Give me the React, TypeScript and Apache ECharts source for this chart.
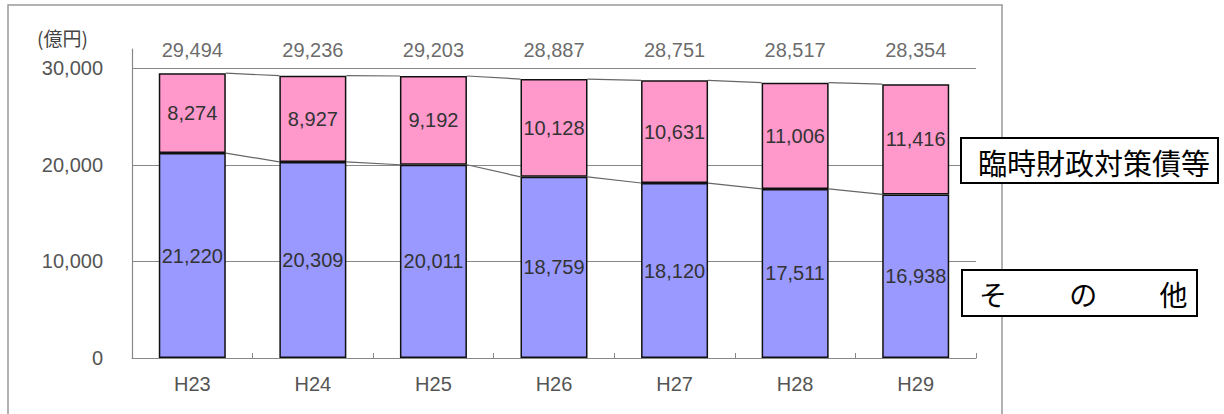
import React, { useEffect, useRef } from "react";
import * as echarts from "echarts";

const categories = ["H23", "H24", "H25", "H26", "H27", "H28", "H29"];
const otherValues = [21220, 20309, 20011, 18759, 18120, 17511, 16938];
const rinjiValues = [8274, 8927, 9192, 10128, 10631, 11006, 11416];
const totalValues = [29494, 29236, 29203, 28887, 28751, 28517, 28354];
const unitLabel = "(億円)";
const legendRinji = "臨時財政対策債等";
const legendOther = "そ　　 の　　 他";

const BAR_WIDTH = 67;
const TOTAL_ROW_LEVEL = 31900;
const FONT = "'Liberation Sans', Arial, sans-serif";
const CJK = "'Noto Sans CJK JP', sans-serif";

const fmt = (v: number) => v.toLocaleString("en-US");

export default function App() {
  const ref = useRef<HTMLDivElement>(null);
  useEffect(() => {
    if (!ref.current) return;
    const chart = echarts.init(ref.current, undefined, { renderer: "svg" });
    const seriesLine = (vals: number[]) => ({
      type: "custom",
      silent: true,
      z: 1,
      encode: { x: 0, y: 1 },
      data: vals.slice(0, -1).map((v, i) => [i, v, vals[i + 1]]),
      renderItem: (_p: any, api: any) => {
        const i = api.value(0);
        const a = api.coord([i, api.value(1)]);
        const b = api.coord([i + 1, api.value(2)]);
        const h = BAR_WIDTH / 2;
        return {
          type: "line",
          shape: { x1: a[0] + h, y1: a[1], x2: b[0] - h, y2: b[1] },
          style: { stroke: "#666", lineWidth: 1.2 },
        };
      },
    });
    chart.setOption({
      animation: false,
      backgroundColor: "#fff",
      grid: { left: 132, right: 248, top: 49, bottom: 56 },
      xAxis: {
        type: "category",
        data: categories,
        axisLine: { lineStyle: { color: "#888", width: 1.2 } },
        axisTick: { show: true, inside: true, length: 5, lineStyle: { color: "#888" } },
        axisLabel: { color: "#555", fontSize: 20, fontFamily: FONT, margin: 16 },
      },
      yAxis: {
        type: "value",
        min: 0,
        max: 32000,
        interval: 10000,
        axisLine: { show: true, lineStyle: { color: "#888", width: 1.2 } },
        axisTick: { show: false },
        axisLabel: {
          color: "#555",
          fontSize: 20,
          fontFamily: FONT,
          margin: 29,
          showMaxLabel: false,
          formatter: (v: number) => fmt(v),
        },
        splitLine: { show: true, showMaxLine: false, lineStyle: { color: "#888", width: 1.2 } },
      },
      series: [
        {
          type: "bar",
          stack: "total",
          data: otherValues,
          barWidth: BAR_WIDTH,
          z: 2,
          itemStyle: { color: "#9999FF", borderColor: "#111", borderWidth: 1.5 },
          label: {
            show: true,
            position: "inside",
            color: "#333",
            fontSize: 20,
            fontFamily: FONT,
            formatter: (p: any) => fmt(p.value),
          },
        },
        {
          type: "bar",
          stack: "total",
          data: rinjiValues,
          barWidth: BAR_WIDTH,
          z: 2,
          itemStyle: { color: "#FF99CC", borderColor: "#111", borderWidth: 1.5 },
          label: {
            show: true,
            position: "inside",
            color: "#333",
            fontSize: 20,
            fontFamily: FONT,
            formatter: (p: any) => fmt(p.value),
          },
        },
        seriesLine(otherValues),
        seriesLine(totalValues),
        {
          type: "scatter",
          symbolSize: 0,
          silent: true,
          data: totalValues.map((_t, i) => [i, TOTAL_ROW_LEVEL]),
          label: {
            show: true,
            position: "inside",
            color: "#444",
            fontSize: 20,
            fontFamily: FONT,
            formatter: (p: any) => fmt(totalValues[p.dataIndex]),
          },
        },
      ],
      graphic: [
        {
          type: "rect",
          z: 0,
          silent: true,
          shape: { x: 8, y: 5, width: 994, height: 430 },
          style: { fill: "none", stroke: "#999", lineWidth: 1.5 },
        },
        {
          type: "text",
          x: 37,
          y: 37,
          style: {
            text: unitLabel,
            font: `19px ${CJK}`,
            fill: "#444",
            textAlign: "left",
            textVerticalAlign: "middle",
          },
        },
        {
          type: "rect",
          z: 100,
          shape: { x: 961, y: 138, width: 257, height: 45 },
          style: { fill: "#fff", stroke: "#000", lineWidth: 2 },
        },
        {
          type: "text",
          z: 101,
          x: 1094,
          y: 162,
          style: {
            text: legendRinji,
            font: `29px ${CJK}`,
            fill: "#000",
            textAlign: "center",
            textVerticalAlign: "middle",
          },
        },
        {
          type: "rect",
          z: 100,
          shape: { x: 962, y: 270, width: 235, height: 46 },
          style: { fill: "#fff", stroke: "#000", lineWidth: 2 },
        },
        {
          type: "text",
          z: 101,
          x: 979,
          y: 294,
          style: {
            text: legendOther,
            font: `28px ${CJK}`,
            fill: "#000",
            textAlign: "left",
            textVerticalAlign: "middle",
          },
        },
      ],
    });
    return () => chart.dispose();
  }, []);
  return (
    <div
      ref={ref}
      style={{ position: "fixed", left: 0, top: 0, width: 1224, height: 414 }}
    />
  );
}
